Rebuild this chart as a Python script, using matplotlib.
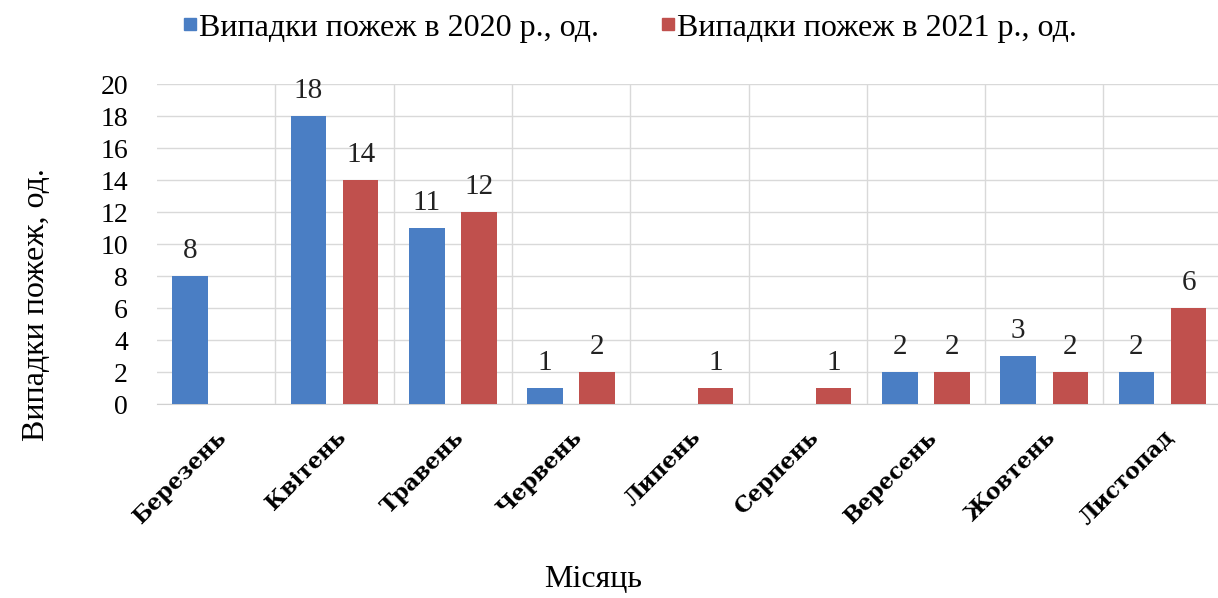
import matplotlib
matplotlib.use("Agg")
import matplotlib.pyplot as plt
from matplotlib.lines import Line2D
import numpy as np

months = ["Березень", "Квітень", "Травень", "Червень", "Липень",
          "Серпень", "Вересень", "Жовтень", "Листопад"]
fires_2020 = [8, 18, 11, 1, 0, 0, 2, 3, 2]
fires_2021 = [0, 14, 12, 2, 1, 1, 2, 2, 6]
series_names = ["Випадки пожеж в 2020 р., од.", "Випадки пожеж в 2021 р., од."]
y_ticks = list(range(0, 21, 2))

blue = "#4A7EC4"
red = "#C0504D"
serif = ["Liberation Serif", "DejaVu Serif"]

plt.rcParams["font.family"] = serif

fig = plt.figure(figsize=(12.18, 5.98), dpi=100)
ax = fig.add_axes([0.129, 0.3244, 0.874, 0.5351])

x = np.arange(len(months))
w = 0.30
off = 0.22
b1 = ax.bar(x - off, fires_2020, w, color=blue, zorder=3)
b2 = ax.bar(x + off, fires_2021, w, color=red, zorder=3)

for rects, vals in ((b1, fires_2020), (b2, fires_2021)):
    for r, v in zip(rects, vals):
        if v > 0:
            ax.text(r.get_x() + r.get_width() / 2, v + 0.75, str(v),
                    ha="center", va="bottom", fontsize=21, color="#222222")

ax.set_xlim(-0.5, len(months) - 0.5)
ax.set_ylim(0, 20)
ax.set_yticks(y_ticks)
ax.tick_params(axis="y", labelsize=20, length=0, pad=21)

ax.set_xticks(x)
ax.set_xticklabels(months, rotation=45, ha="right", va="top",
                   rotation_mode="anchor", fontsize=16, fontweight="bold",
                   family=["DejaVu Serif"])
ax.tick_params(axis="x", length=0, pad=16)

# horizontal grid at each tick, vertical lines between categories
ax.yaxis.grid(True, color="#d9d9d9", linewidth=1.0, zorder=0)
for b in np.arange(0.5, len(months) - 0.5, 1.0):
    ax.axvline(b, color="#d9d9d9", linewidth=1.0, zorder=0)

for s in ("top", "right", "left"):
    ax.spines[s].set_visible(False)
ax.spines["bottom"].set_color("#d0d0d0")

fig.text(0.030, 0.49, "Випадки пожеж, од.", rotation=90,
         ha="center", va="center", fontsize=23)
fig.text(0.487, 0.018, "Місяць", ha="center", va="baseline", fontsize=23)

handles = [Line2D([], [], marker="s", linestyle="none", markersize=9,
                  color=c) for c in (blue, red)]
fig.legend(handles, series_names, loc="upper center",
           bbox_to_anchor=(0.507, 1.01), ncol=2, frameon=False,
           fontsize=23, handletextpad=-0.7, columnspacing=1.15,
           borderaxespad=0.2)

fig.savefig("out.png", dpi=100, facecolor="white")
